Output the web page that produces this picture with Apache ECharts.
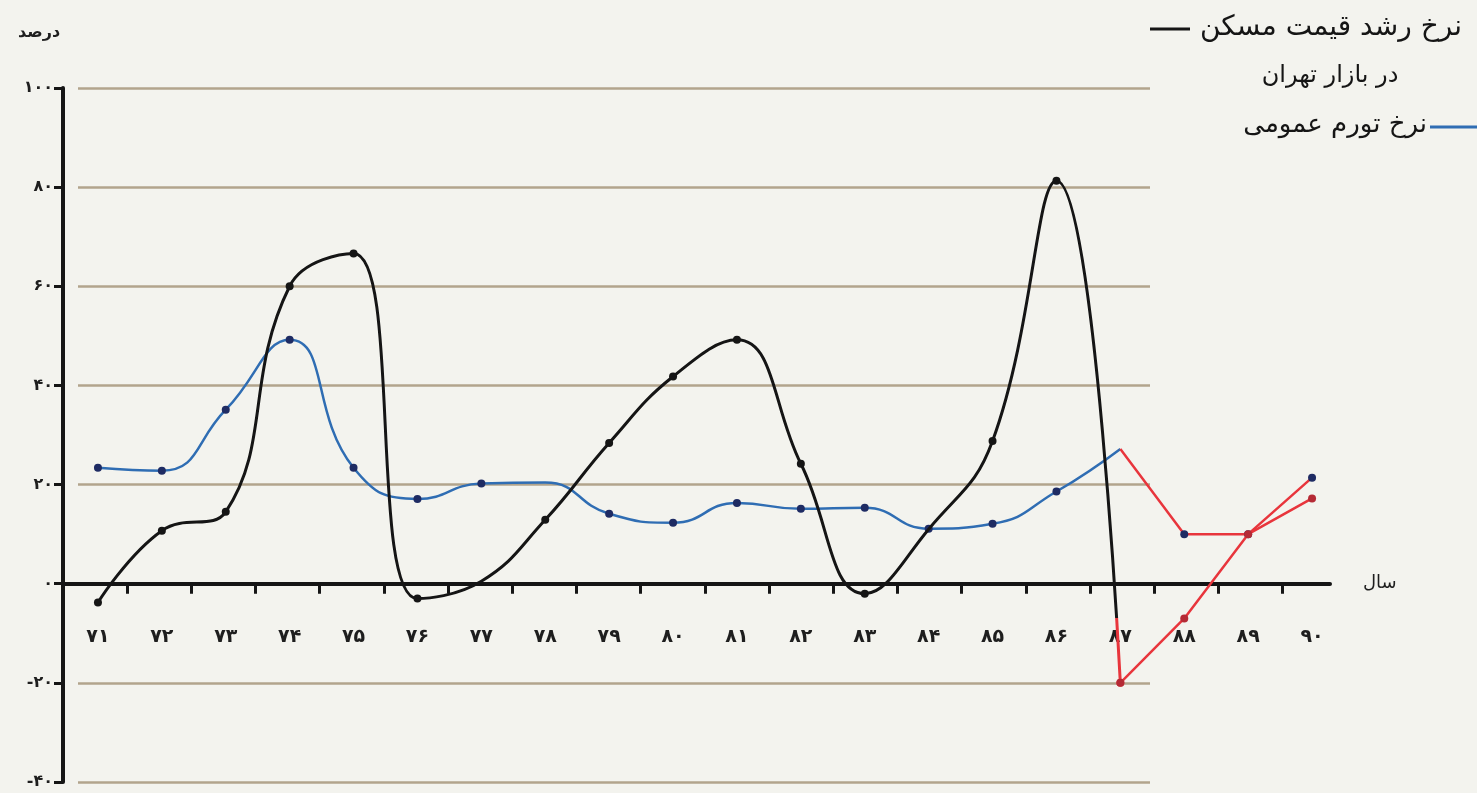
<!DOCTYPE html>
<html>
<head>
<meta charset="utf-8">
<script src="https://cdn.jsdelivr.net/npm/echarts@6/dist/echarts.min.js"></script>
<style>
html,body{margin:0;padding:0;background:#f3f3ee;}
#chart{width:1477px;height:793px;}
</style>
</head>
<body>
<div id="chart"></div>
<script>
// ---- data ----
const years = ['۷۱','۷۲','۷۳','۷۴','۷۵','۷۶','۷۷','۷۸','۷۹','۸۰','۸۱','۸۲','۸۳','۸۴','۸۵','۸۶','۸۷','۸۸','۸۹','۹۰'];
// house price growth rate in Tehran market (71..87)
const housePrice = [-3.8, 10.7, 14.5, 60, 66.6, -3, 0.5, 12.9, 28.4, 41.8, 49.2, 24.2, -2, 11, 28.8, 81.3, -20];
// general inflation rate (71..87)
const inflation = [23.4, 22.8, 35.1, 49.2, 23.4, 17.1, 20.2, 20.4, 14.1, 12.3, 16.3, 15.1, 15.3, 11.1, 12.1, 18.6, 27.2];
// red segments (87..90)
const housePriceLate = [-20, -7, 10, 17.2];
const inflationLate = [27.2, 10, 10, 21.4];
const lateStart = 16;
// points drawn without a dot in the picture
const houseNoDot = [6, 13];
const inflationNoDot = [7, 16];
const inflationLateNoDot = [0];

const fa = s => String(s).replace(/\d/g, d => '۰۱۲۳۴۵۶۷۸۹'[d]);

const withDots = (arr, hidden) => arr.map((v, i) => hidden.includes(i) ? {value: v, symbol: 'none'} : v);
const padLate = (arr, hidden) => {
  const out = new Array(lateStart).fill(null);
  arr.forEach((v, i) => out.push(hidden.includes(i) ? {value: v, symbol: 'none'} : v));
  return out;
};

const AR = "'DejaVu Sans', sans-serif";
const chart = echarts.init(document.getElementById('chart'));
chart.setOption({
  backgroundColor: '#f3f3ee',
  animation: false,
  title: {
    text: 'درصد', left: 13, top: 20,
    textStyle: {fontFamily: AR, fontSize: 16, fontWeight: 'bold', color: '#1e1e1e'}
  },
  grid: [
    {left: 66, right: 133, top: 88, bottom: 11, outerBoundsMode: 'none', containLabel: false},
    {left: 78, right: 327, top: 88, bottom: 11, outerBoundsMode: 'none', containLabel: false},
    {left: 63, right: 147, top: 88, bottom: 11, outerBoundsMode: 'none', containLabel: false}
  ],
  xAxis: [
    {
      type: 'category', gridIndex: 0, data: years, boundaryGap: true,
      position: 'bottom', offset: -199,
      axisLine: {show: false, onZero: false},
      axisTick: {show: false},
      axisLabel: {show: true, interval: 0, margin: 45, fontFamily: AR, fontSize: 19, fontWeight: 'bold', color: '#1e1e1e'}
    },
    {type: 'value', gridIndex: 1, min: 0, max: 1, show: false},
    {
      type: 'value', gridIndex: 2, min: 0, max: 19.74,
      axisLine: {show: true, onZero: true, lineStyle: {color: '#151515', width: 4}},
      axisTick: {show: true, customValues: [1,2,3,4,5,6,7,8,9,10,11,12,13,14,15,16,17,18,19], length: 10, lineStyle: {color: '#151515', width: 3}},
      axisLabel: {show: false},
      splitLine: {show: false},
      name: 'سال', nameLocation: 'end', nameGap: 33,
      nameTextStyle: {fontFamily: AR, fontSize: 18, color: '#1e1e1e', verticalAlign: 'middle'}
    }
  ],
  yAxis: [
    {
      type: 'value', gridIndex: 0, min: -40, max: 100, interval: 20, offset: 3,
      axisLine: {show: true, lineStyle: {color: '#151515', width: 4}},
      axisTick: {show: true, length: 9, lineStyle: {color: '#151515', width: 3}},
      axisLabel: {margin: 10, fontFamily: AR, fontSize: 16, fontWeight: 'bold', color: '#1e1e1e', formatter: v => fa(v)},
      splitLine: {show: false}
    },
    {
      type: 'value', gridIndex: 1, min: -40, max: 100, interval: 20,
      axisLine: {show: false}, axisTick: {show: false}, axisLabel: {show: false},
      splitLine: {show: true, lineStyle: {color: '#b2a48c', width: 2.5}}
    },
    {type: 'value', gridIndex: 2, min: -40, max: 100, interval: 20, show: false}
  ],
  visualMap: [{
    type: 'piecewise', show: false, seriesIndex: 0, dimension: 1,
    pieces: [{min: -40, max: -7, color: '#e8353c'}, {min: -7, max: 100, color: '#151515'}]
  }],
  series: [
    {
      name: 'نرخ رشد قیمت مسکن در بازار تهران', type: 'line', xAxisIndex: 0, yAxisIndex: 0,
      data: withDots(housePrice, houseNoDot), smooth: 0.45,
      symbol: 'circle', symbolSize: 8, showSymbol: true,
      lineStyle: {width: 3}, z: 4
    },
    {
      name: 'نرخ تورم عمومی', type: 'line', xAxisIndex: 0, yAxisIndex: 0,
      data: withDots(inflation, inflationNoDot), smooth: 0.5,
      symbol: 'circle', symbolSize: 8,
      lineStyle: {width: 2.5, color: '#2f6db3'}, itemStyle: {color: '#1e2b63'}, z: 3
    },
    {
      type: 'line', xAxisIndex: 0, yAxisIndex: 0,
      data: padLate(inflationLate, inflationLateNoDot), smooth: false,
      symbol: 'circle', symbolSize: 8,
      lineStyle: {width: 2.5, color: '#e8353c'}, itemStyle: {color: '#1e2b63'}, z: 5
    },
    {
      type: 'line', xAxisIndex: 0, yAxisIndex: 0,
      data: padLate(housePriceLate, []), smooth: false,
      symbol: 'circle', symbolSize: 8,
      lineStyle: {width: 2.5, color: '#e8353c'}, itemStyle: {color: '#b52a35'}, z: 6
    }
  ],
  graphic: [
    {type: 'line', shape: {x1: 1150, y1: 29, x2: 1190, y2: 29}, style: {stroke: '#151515', lineWidth: 3}},
    {type: 'text', x: 1462, y: 28, style: {text: 'نرخ رشد قیمت مسکن', font: '28px ' + AR, fill: '#151515', align: 'right', textAlign: 'right', verticalAlign: 'middle', textVerticalAlign: 'middle'}},
    {type: 'text', x: 1330, y: 76, style: {text: 'در بازار تهران', font: '24px ' + AR, fill: '#151515', align: 'center', textAlign: 'center', verticalAlign: 'middle', textVerticalAlign: 'middle'}},
    {type: 'text', x: 1427, y: 125, style: {text: 'نرخ تورم عمومی', font: '26px ' + AR, fill: '#151515', align: 'right', textAlign: 'right', verticalAlign: 'middle', textVerticalAlign: 'middle'}},
    {type: 'line', shape: {x1: 1430, y1: 127, x2: 1477, y2: 127}, style: {stroke: '#2f6db3', lineWidth: 3}}
  ]
});
</script>
</body>
</html>
